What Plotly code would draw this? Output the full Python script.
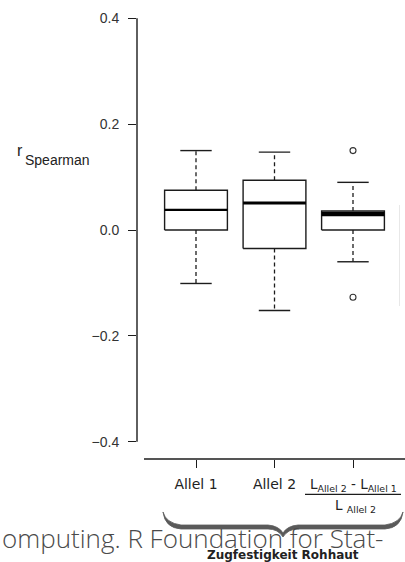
import plotly.graph_objects as go

# ---- data ----
categories = ["Allel 1", "Allel 2", "ratio"]
tick_labels = ["Allel 1", "Allel 2", ""]
positions = [1, 2, 3]
q1 = [0.0, -0.035, 0.0]
median = [0.038, 0.051, 0.030]
q3 = [0.075, 0.094, 0.036]
whisker_low = [-0.101, -0.152, -0.060]
whisker_high = [0.150, 0.147, 0.090]
outlier_pos = [3, 3]
outlier_val = [0.150, -0.127]
y_ticks = [-0.4, -0.2, 0.0, 0.2, 0.4]

W, H = 405, 562
ML, MR, MT, MB = 137, 0, 18, 103
PW, PH = W - ML - MR, H - MT - MB


def pxx(px):
    return (px - ML) / PW


def pxy(py):
    return (H - MB - py) / PH


BOX_HW = 0.40
CAP_HW = 0.20
INK = "#1c1c1c"

fig = go.Figure()

# boxes
bx, by = [], []
for c, a, b in zip(positions, q1, q3):
    bx += [c - BOX_HW, c + BOX_HW, c + BOX_HW, c - BOX_HW, c - BOX_HW, None]
    by += [a, a, b, b, a, None]
fig.add_trace(go.Scatter(x=bx, y=by, mode="lines", line=dict(color=INK, width=1.4),
                         hoverinfo="skip"))

# whiskers (dashed)
wx, wy = [], []
for c, a, b, lo, hi in zip(positions, q1, q3, whisker_low, whisker_high):
    wx += [c, c, None, c, c, None]
    wy += [b, hi, None, a, lo, None]
fig.add_trace(go.Scatter(x=wx, y=wy, mode="lines",
                         line=dict(color=INK, width=1.3, dash="4px,3px"), hoverinfo="skip"))

# caps
cx, cy = [], []
for c, lo, hi in zip(positions, whisker_low, whisker_high):
    cx += [c - CAP_HW, c + CAP_HW, None, c - CAP_HW, c + CAP_HW, None]
    cy += [hi, hi, None, lo, lo, None]
fig.add_trace(go.Scatter(x=cx, y=cy, mode="lines", line=dict(color=INK, width=1.4),
                         hoverinfo="skip"))

# medians
med_widths = [2.2, 3.2, 4.5]
for c, m, mw in zip(positions, median, med_widths):
    fig.add_trace(go.Scatter(x=[c - BOX_HW, c + BOX_HW], y=[m, m], mode="lines",
                             line=dict(color="#000000", width=mw), hoverinfo="skip"))

# outliers
fig.add_trace(go.Scatter(x=outlier_pos, y=outlier_val, mode="markers",
                         marker=dict(symbol="circle-open", size=6, color="#333333",
                                     line=dict(width=1.1)), hoverinfo="skip"))

x0 = 1 + (ML - 196) / 78.5
x1 = 1 + (W - 196) / 78.5

fig.update_layout(
    width=W, height=H,
    margin=dict(l=ML, r=MR, t=MT, b=MB, pad=0),
    plot_bgcolor="white", paper_bgcolor="white",
    showlegend=False, hovermode=False,
    xaxis=dict(range=[x0, x1], tickvals=positions, ticktext=tick_labels,
               showgrid=False, zeroline=False, showline=False,
               ticks="outside", ticklen=8, tickwidth=1.3, tickcolor=INK,
               tickfont=dict(family="DejaVu Sans", size=14, color="#222222"),
               ticklabelstandoff=4),
    yaxis=dict(range=[-0.4325, 0.4004], tickvals=y_ticks, tickformat=".1f",
               showgrid=False, zeroline=False, showline=False,
               ticks="outside", ticklen=8, tickwidth=1.3, tickcolor=INK,
               tickfont=dict(family="Liberation Sans", size=14, color="#333333"),
               ticklabelstandoff=6),
)

shapes = [
    # y axis line
    dict(type="line", xref="paper", yref="y", x0=0, x1=0, y0=-0.4, y1=0.4,
         line=dict(color=INK, width=1.4)),
    # x axis line
    dict(type="line", xref="paper", yref="paper", x0=pxx(144), x1=1.02, y0=0, y1=0,
         line=dict(color=INK, width=1.4)),
    # faint edge of a cut-off element
    dict(type="line", xref="paper", yref="paper", x0=pxx(399.5), x1=pxx(399.5),
         y0=pxy(205), y1=pxy(306), line=dict(color="#e8e8e8", width=1)),
    # fraction bar
    dict(type="line", xref="paper", yref="paper", x0=pxx(305), x1=pxx(401),
         y0=pxy(494.3), y1=pxy(494.3), line=dict(color=INK, width=1.3)),
]

# curly brace
pts_top = [(163, 512), (166, 523), (181, 525), (268, 525), (279, 526), (283, 533),
           (287, 526), (298, 525), (385, 525), (400, 523), (403, 512)]
pts_bot = [(403, 512), (401, 528), (385, 529), (298, 529), (288, 529), (283, 537),
           (278, 529), (268, 529), (181, 529), (165, 528), (163, 512)]


def P(p):
    return f"{pxx(p[0]):.5f},{pxy(p[1]):.5f}"


t = pts_top
b = pts_bot
path = (f"M {P(t[0])} Q {P(t[1])} {P(t[2])} L {P(t[3])} Q {P(t[4])} {P(t[5])} "
        f"Q {P(t[6])} {P(t[7])} L {P(t[8])} Q {P(t[9])} {P(t[10])} "
        f"Q {P(b[1])} {P(b[2])} L {P(b[3])} Q {P(b[4])} {P(b[5])} "
        f"Q {P(b[6])} {P(b[7])} L {P(b[8])} Q {P(b[9])} {P(b[10])} Z")
shapes.append(dict(type="path", xref="paper", yref="paper", path=path,
                   fillcolor="#5a5a5a", line=dict(color="#5a5a5a", width=0.8)))
fig.update_layout(shapes=shapes)

ann = [
    dict(text="r", x=pxx(15), y=pxy(150), xanchor="left", yanchor="middle",
         font=dict(family="Liberation Sans", size=16, color="#222222")),
    dict(text="Spearman", x=pxx(23), y=pxy(160), xanchor="left", yanchor="middle",
         font=dict(family="Liberation Sans", size=14, color="#222222")),
    dict(text="L<sub>Allel 2</sub> - L<sub>Allel 1</sub>", x=pxx(353), y=pxy(485),
         xanchor="center", yanchor="middle",
         font=dict(family="DejaVu Sans", size=13.5, color="#222222")),
    dict(text="L <sub>Allel 2</sub>", x=pxx(355), y=pxy(506),
         xanchor="center", yanchor="middle",
         font=dict(family="DejaVu Sans", size=13.5, color="#222222")),
    dict(text="omputing. R Foundation for Stat-", x=pxx(0), y=pxy(538),
         xanchor="left", yanchor="middle",
         font=dict(family="Open Sans", size=26, color="#4a4a4a", weight=300)),
    dict(text="<b>Zugfestigkeit Rohhaut</b>", x=pxx(283), y=pxy(555),
         xanchor="center", yanchor="middle",
         font=dict(family="DejaVu Sans", size=12, color="#222222")),
]
for a in ann:
    a.update(xref="paper", yref="paper", showarrow=False)
fig.update_layout(annotations=ann)

fig.write_html("out.html", config=dict(displayModeBar=False),
               post_script="document.body.style.margin='0px';")
